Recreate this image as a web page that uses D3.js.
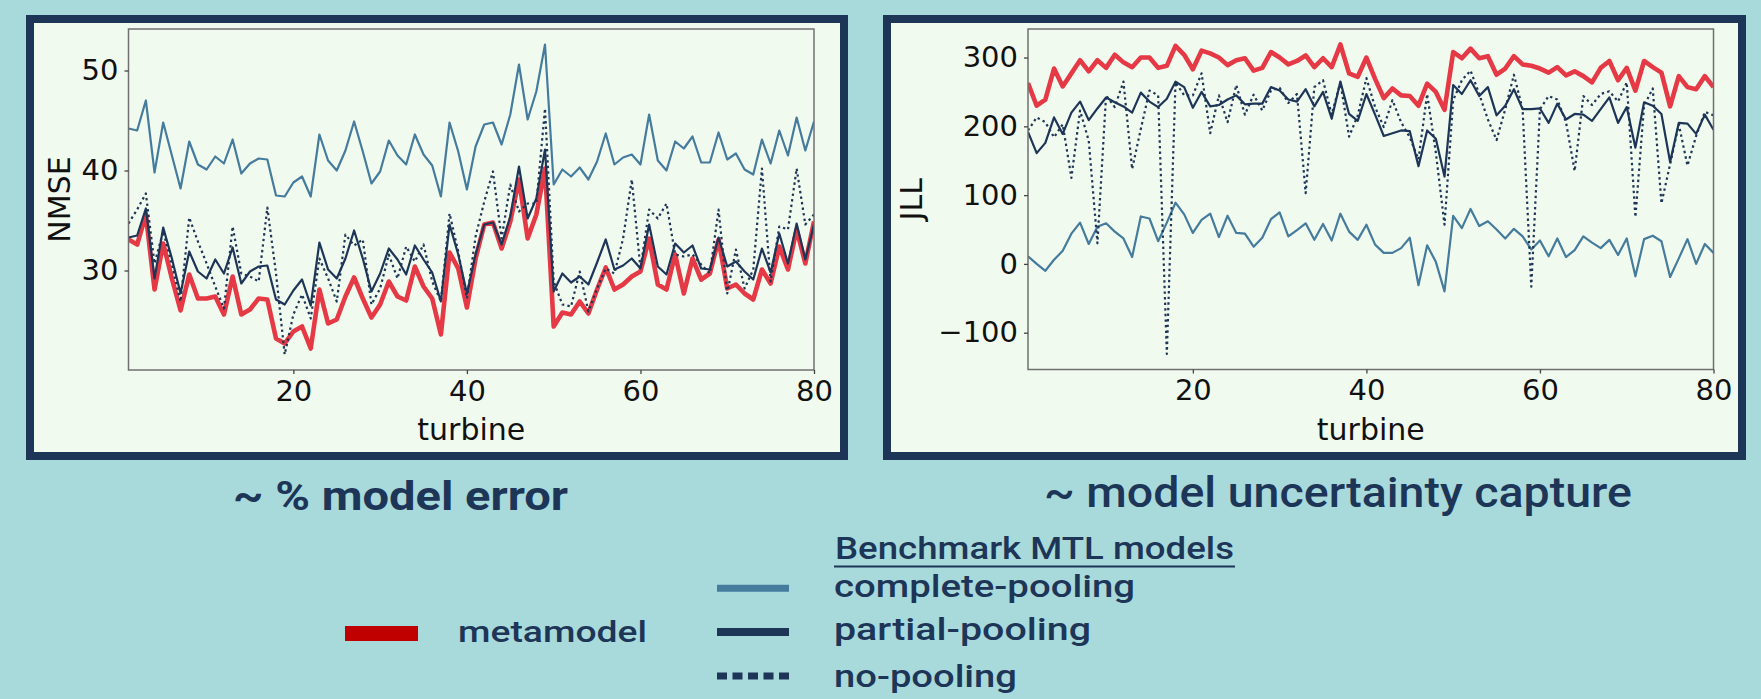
<!DOCTYPE html>
<html>
<head>
<meta charset="utf-8">
<script src="https://cdn.jsdelivr.net/npm/d3@7"></script>
<style>
  body { margin: 0; background: #a8dadc; }
  svg { display: block; }
  .tick text { font-family: 'DejaVu Sans', sans-serif; font-size: 29px; fill: #111; }
  .tick line { stroke: #444; stroke-width: 1.3; }
  .axisLabel { font-family: 'DejaVu Sans', sans-serif; font-size: 30px; fill: #111; }
  .caption { font-family: Roboto, sans-serif; fill: #1d3557; }
</style>
</head>
<body>
<div id="chart"></div>
<script>
// turbines on the x axis
const turbines = d3.range(1, 81);

// NMSE per turbine (left panel)
const nmseMeta = [33.1, 32.6, 35.6, 28.1, 32.7, 29.2, 26.0, 29.6, 27.2, 27.2, 27.4, 25.6, 29.4, 25.6, 26.1, 27.2, 27.1, 23.2, 22.7, 23.9, 24.4, 22.2, 28.1, 24.7, 25.1, 27.4, 29.3,
  27.2, 25.3, 26.6, 28.9, 27.4, 27.0, 30.4, 28.4, 27.2, 23.6, 31.8, 30.2, 26.3, 31.2, 34.6, 34.8, 32.2, 34.9, 39.1, 33.2, 35.6, 40.2, 24.4, 25.8, 25.6, 26.9, 25.7,
  28.1, 30.3, 28.1, 28.6, 29.4, 29.9, 33.2, 28.6, 28.1, 31.6, 27.7, 31.2, 29.1, 29.7, 33.1, 28.2, 28.6, 27.7, 27.1, 30.1, 28.7, 32.4, 30.1, 34.1, 30.7, 34.9];
const nmseComplete = [44.2, 44.0, 47.0, 39.8, 44.8, 41.5, 38.2, 42.9, 40.6, 40.1, 41.4, 40.7, 43.1, 39.7, 40.7, 41.2, 41.1, 37.5, 37.4, 38.8, 39.4, 37.4, 43.6, 41.0, 40.0, 42.0, 44.9,
  41.9, 38.7, 39.9, 43.0, 41.5, 40.6, 43.6, 41.6, 40.5, 37.4, 44.8, 41.9, 38.1, 42.4, 44.6, 44.8, 42.6, 45.6, 50.6, 45.1, 47.9, 52.6, 38.6, 40.1, 39.4, 40.3, 39.1,
  40.9, 43.7, 40.6, 41.3, 41.6, 40.6, 45.6, 41.0, 40.0, 42.9, 42.2, 43.4, 40.8, 40.8, 43.8, 41.1, 41.7, 40.1, 39.6, 43.1, 40.7, 44.0, 41.5, 45.3, 42.0, 44.9];
const nmsePartial = [33.3, 33.5, 36.2, 29.2, 34.3, 31.2, 27.7, 31.9, 29.9, 29.2, 31.1, 29.7, 32.3, 28.7, 29.9, 30.4, 30.5, 27.1, 26.6, 28.0, 29.1, 26.5, 32.8, 30.1, 29.2, 31.2, 34.0,
  31.2, 27.9, 29.7, 32.2, 31.1, 29.6, 32.5, 31.1, 29.8, 26.9, 34.6, 31.6, 27.7, 31.6, 34.6, 34.8, 32.6, 35.4, 40.4, 35.2, 37.2, 42.1, 27.9, 29.7, 28.8, 29.4, 28.6,
  30.8, 33.1, 30.1, 30.5, 31.2, 30.2, 34.6, 30.4, 29.6, 32.7, 31.8, 32.5, 30.2, 30.1, 33.3, 30.4, 30.9, 29.9, 29.1, 32.2, 29.8, 33.7, 30.7, 34.7, 31.1, 34.6];
const nmseNo = [34.7, 36.1, 37.7, 30.7, 33.9, 30.6, 26.9, 35.3, 32.9, 30.7, 28.4, 26.2, 34.4, 29.7, 29.4, 28.9, 36.3, 29.7, 21.6, 25.6, 27.6, 25.2, 31.2, 29.2, 26.9, 33.6, 32.5,
  33.1, 26.6, 28.2, 31.6, 29.2, 32.4, 30.9, 32.6, 28.9, 26.9, 35.7, 31.9, 27.2, 33.4, 36.9, 39.9, 33.2, 38.6, 35.9, 36.7, 36.7, 46.2, 28.9, 26.6, 26.4, 29.9, 25.9,
  28.2, 30.2, 29.7, 33.2, 39.1, 30.2, 36.1, 35.2, 36.7, 31.6, 31.4, 31.6, 30.6, 29.7, 36.1, 27.7, 32.1, 28.2, 30.1, 40.2, 28.9, 34.4, 34.1, 40.2, 34.6, 35.6];

// JLL per turbine (right panel)
const jllMeta = [263, 230, 239, 284, 258, 277, 296, 280, 296, 285, 304, 293, 286, 300, 300, 285, 288, 317, 304, 283, 310, 306, 300, 289, 296, 299, 281,
  285, 308, 300, 290, 295, 303, 286, 299, 286, 319, 277, 272, 300, 269, 241, 255, 245, 244, 230, 262, 250, 224, 308, 299, 313, 299, 302,
  275, 284, 302, 290, 288, 284, 278, 286, 274, 280, 273, 264, 285, 295, 267, 285, 252, 295, 286, 278, 229, 273, 257, 254, 273, 257];
const jllComplete = [11, 0, -10, 6, 19, 44, 60, 29, 54, 59, 47, 37, 10, 69, 66, 33, 60, 89, 72, 45, 64, 73, 39, 70, 45, 44, 25,
  38, 65, 75, 40, 49, 59, 35, 58, 34, 73, 47, 35, 57, 28, 16, 16, 23, 38, -31, 27, 3, -40, 70, 52, 80, 55, 62,
  50, 37, 51, 40, 21, 34, 11, 37, 10, 20, 40, 31, 23, 35, 13, 37, -18, 36, 41, 33, -19, 8, 36, 0, 29, 16];
const jllPartial = [192, 161, 176, 213, 189, 220, 236, 209, 226, 242, 235, 229, 220, 249, 236, 228, 240, 265, 257, 227, 250, 229, 231, 239, 245, 232, 233,
  233, 257, 252, 239, 236, 254, 229, 250, 211, 265, 218, 208, 247, 217, 186, 190, 194, 193, 142, 194, 182, 127, 260, 247, 267, 244, 257,
  216, 230, 254, 225, 225, 226, 205, 233, 210, 218, 217, 208, 225, 242, 205, 228, 169, 235, 230, 218, 148, 205, 204, 189, 217, 195];
const jllNo = [194, 213, 206, 184, 203, 125, 223, 179, 30, 245, 228, 265, 138, 196, 252, 245, -131, 264, 245, 245, 277, 190, 245, 206, 260, 217, 246,
  223, 252, 256, 234, 247, 103, 257, 267, 217, 264, 185, 216, 270, 228, 199, 238, 206, 184, 152, 247, 162, 57, 238, 267, 281, 247, 210,
  180, 225, 275, 225, -33, 225, 244, 239, 206, 135, 244, 231, 247, 251, 236, 264, 68, 230, 255, 88, 145, 203, 143, 186, 221, 216];

// tick values
const xTicks = [20, 40, 60, 80];
const nmseTicks = [30, 40, 50];
const jllTicks = [-100, 0, 100, 200, 300];

// legend entries
const benchLabels = ['complete-pooling', 'partial-pooling', 'no-pooling'];

const svgWidth = 1761;
const svgHeight = 699;
const colors = { bg: '#a8dadc', panel: '#f1faee', navy: '#1d3557', steel: '#457b9d', red: '#e63946' };

const svg = d3.select('#chart')
  .append('svg')
  .attr('width', svgWidth)
  .attr('height', svgHeight);

// series styles, drawn in this order
const seriesStyle = [
  { key: 'meta', color: colors.red, width: 4.6, dash: null },
  { key: 'complete', color: colors.steel, width: 2.2, dash: null },
  { key: 'no', color: colors.navy, width: 2.2, dash: '2.4 3.2' },
  { key: 'partial', color: colors.navy, width: 2.2, dash: null }
];

const drawPanel = (cfg) => {
  // outer framed card
  svg.append('rect')
    .attr('x', cfg.frame[0])
    .attr('y', cfg.frame[1])
    .attr('width', cfg.frame[2])
    .attr('height', cfg.frame[3])
    .attr('fill', colors.panel)
    .attr('stroke', colors.navy)
    .attr('stroke-width', 8);

  const x = d3.scaleLinear().domain([1, 80]).range([cfg.left, cfg.right]);

  // matplotlib style 5% margins
  const all = d3.merge(Object.values(cfg.series));
  const lo = d3.min(all), hi = d3.max(all);
  const pad = (hi - lo) * 0.05;
  const y = d3.scaleLinear().domain([lo - pad, hi + pad]).range([cfg.bottom, cfg.top]);

  const g = svg.append('g');

  g.append('clipPath')
    .attr('id', cfg.id)
    .append('rect')
    .attr('x', cfg.left)
    .attr('y', cfg.top)
    .attr('width', cfg.right - cfg.left)
    .attr('height', cfg.bottom - cfg.top);

  const line = (vals) => d3.line()
    .x((d, i) => x(turbines[i]))
    .y(d => y(d))(vals);

  seriesStyle.forEach(s => {
    g.append('path')
      .attr('d', line(cfg.series[s.key]))
      .attr('clip-path', `url(#${cfg.id})`)
      .attr('fill', 'none')
      .attr('stroke', s.color)
      .attr('stroke-width', s.width)
      .attr('stroke-linejoin', 'round')
      .attr('stroke-dasharray', s.dash);
  });

  // spines
  g.append('rect')
    .attr('x', cfg.left)
    .attr('y', cfg.top)
    .attr('width', cfg.right - cfg.left)
    .attr('height', cfg.bottom - cfg.top)
    .attr('fill', 'none')
    .attr('stroke', '#707070')
    .attr('stroke-width', 1.5);

  const xAxis = g.append('g')
    .attr('transform', `translate(0, ${cfg.bottom})`)
    .call(d3.axisBottom(x).tickValues(xTicks).tickSize(4).tickPadding(6));
  xAxis.select('.domain').remove();

  const yAxis = g.append('g')
    .attr('transform', `translate(${cfg.left}, 0)`)
    .call(d3.axisLeft(y).tickValues(cfg.yTicks).tickSize(4).tickPadding(6)
      .tickFormat(d => d < 0 ? '\u2212' + Math.abs(d) : d));
  yAxis.select('.domain').remove();

  g.append('text')
    .classed('axisLabel', true)
    .attr('x', (cfg.left + cfg.right) / 2)
    .attr('y', 440)
    .attr('text-anchor', 'middle')
    .text('turbine');

  g.append('text')
    .classed('axisLabel', true)
    .attr('transform', `translate(${cfg.yLabelX}, ${(cfg.top + cfg.bottom) / 2}) rotate(-90)`)
    .attr('text-anchor', 'middle')
    .text(cfg.yLabel);
};

drawPanel({
  id: 'clipL', frame: [30, 19, 814, 437],
  left: 128.5, right: 814, top: 29, bottom: 370,
  series: { meta: nmseMeta, complete: nmseComplete, partial: nmsePartial, no: nmseNo },
  yTicks: nmseTicks, yLabel: 'NMSE', yLabelX: 70
});

drawPanel({
  id: 'clipR', frame: [887, 19, 855, 437],
  left: 1028, right: 1713.5, top: 29, bottom: 369.5,
  series: { meta: jllMeta, complete: jllComplete, partial: jllPartial, no: jllNo },
  yTicks: jllTicks, yLabel: 'JLL', yLabelX: 921.5
});

// panel captions
const caption = (txt, x, y, size, weight, len) => svg.append('text')
  .classed('caption', true)
  .attr('x', x)
  .attr('y', y)
  .attr('font-size', size)
  .attr('font-weight', weight)
  .attr('textLength', len)
  .attr('lengthAdjust', 'spacingAndGlyphs')
  .text(txt);

caption('~ % model error', 233, 510, 41, 700, 335);
caption('~ model uncertainty capture', 1044, 507, 42, 500, 588);

// legend
svg.append('rect')
  .attr('x', 345)
  .attr('y', 626)
  .attr('width', 73)
  .attr('height', 15)
  .attr('fill', '#c00000');
caption('metamodel', 458, 641.5, 30, 500, 189);

caption('Benchmark MTL models', 835, 559, 32, 500, 399);
svg.append('line')
  .attr('x1', 834).attr('x2', 1235)
  .attr('y1', 566.5).attr('y2', 566.5)
  .attr('stroke', colors.navy)
  .attr('stroke-width', 2);

const legendRows = [
  { y: 597, lineY: 588.3, len: 301, color: colors.steel, width: 7, dash: null },
  { y: 640, lineY: 632, len: 257, color: colors.navy, width: 8, dash: null },
  { y: 686.5, lineY: 676, len: 183, color: colors.navy, width: 7, dash: '10 5.5' }
];

legendRows.forEach((r, i) => {
  svg.append('line')
    .attr('x1', 717).attr('x2', 789)
    .attr('y1', r.lineY).attr('y2', r.lineY)
    .attr('stroke', r.color)
    .attr('stroke-width', r.width)
    .attr('stroke-dasharray', r.dash);
  caption(benchLabels[i], 834, r.y, 31, 500, r.len);
});
</script>
</body>
</html>
